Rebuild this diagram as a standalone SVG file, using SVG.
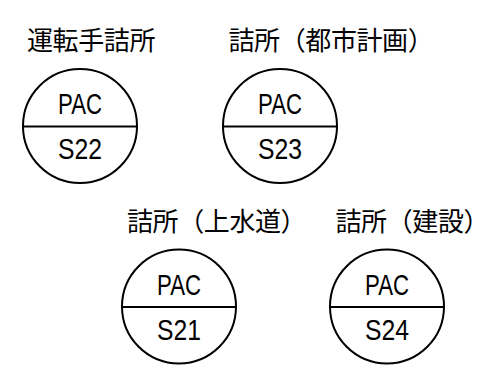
<svg xmlns="http://www.w3.org/2000/svg" width="478" height="371" viewBox="0 0 478 371">
<style>
.bg{fill:#fff}
.c{fill:#fff;stroke:#000;stroke-width:2}
.d{stroke:#000;stroke-width:2}
.lbl{font-family:"Noto Sans CJK JP","Noto Sans CJK SC",sans-serif;font-size:26px;letter-spacing:-0.4px;fill:#000}
.h{font-feature-settings:"halt"}
.t{font-family:"Liberation Sans",Arial,sans-serif;font-size:30px;fill:#000;text-anchor:middle}
</style>
<rect class="bg" x="0" y="0" width="478" height="371"/>
<g id="node-s22">
<text class="lbl" x="27" y="50">運転手詰所</text>
<circle class="c" cx="80" cy="126" r="57"/>
<line class="d" x1="23" y1="126.5" x2="137" y2="126.5"/>
<text class="t" x="80" y="113.5" textLength="44" lengthAdjust="spacingAndGlyphs">PAC</text>
<text class="t" x="80" y="158.5" textLength="44" lengthAdjust="spacingAndGlyphs">S22</text>
</g>
<g id="node-s23">
<text class="lbl" x="228.5" y="50">詰所（都市計画<tspan class="h">）</tspan></text>
<circle class="c" cx="280" cy="126" r="57"/>
<line class="d" x1="223" y1="126.5" x2="337" y2="126.5"/>
<text class="t" x="280" y="113.5" textLength="44" lengthAdjust="spacingAndGlyphs">PAC</text>
<text class="t" x="280" y="158.5" textLength="44" lengthAdjust="spacingAndGlyphs">S23</text>
</g>
<g id="node-s21">
<text class="lbl" x="127" y="231">詰所（上水道<tspan class="h">）</tspan></text>
<circle class="c" cx="179" cy="306.5" r="57"/>
<line class="d" x1="122" y1="307" x2="236" y2="307"/>
<text class="t" x="179" y="295" textLength="44" lengthAdjust="spacingAndGlyphs">PAC</text>
<text class="t" x="179" y="339.5" textLength="44" lengthAdjust="spacingAndGlyphs">S21</text>
</g>
<g id="node-s24">
<text class="lbl" x="335.5" y="231">詰所（建設<tspan class="h">）</tspan></text>
<circle class="c" cx="387" cy="306.5" r="57"/>
<line class="d" x1="330" y1="307" x2="444" y2="307"/>
<text class="t" x="387" y="295" textLength="44" lengthAdjust="spacingAndGlyphs">PAC</text>
<text class="t" x="387" y="339.5" textLength="44" lengthAdjust="spacingAndGlyphs">S24</text>
</g>
<g id="connectors"></g>
</svg>
